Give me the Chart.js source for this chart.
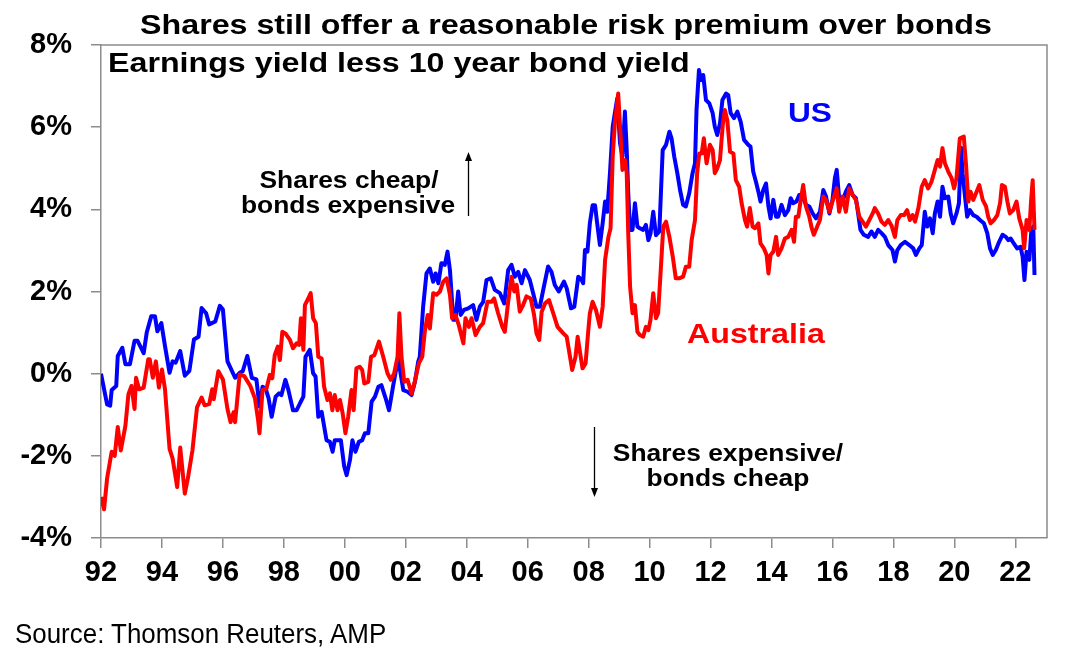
<!DOCTYPE html>
<html>
<head>
<meta charset="utf-8">
<script src="https://cdn.jsdelivr.net/npm/chart.js@4.4.1/dist/chart.umd.min.js"></script>
<style>
  body { margin:0; background:#fff; }
  #wrap { position:relative; width:1068px; height:671px; overflow:hidden; background:#fff; }
  #wrap canvas { position:absolute; left:0; top:0; }
  .t { position:absolute; white-space:nowrap; line-height:1; font-family:Arial, "Liberation Sans", sans-serif; font-weight:bold; color:#000; }
  svg { position:absolute; left:0; top:0; }
</style>
</head>
<body>
<div id="wrap">
  <canvas id="chart" width="1068" height="671"></canvas>
  <div class="t" style="left:566px;top:11px;font-size:28px;transform:translateX(-50%) scaleX(1.15);">Shares still offer a reasonable risk premium over bonds</div>
  <div class="t" style="left:108px;top:49px;font-size:28px;transform:scaleX(1.15);transform-origin:left;">Earnings yield less 10 year bond yield</div>
  <div class="t" style="left:788px;top:99px;font-size:28px;color:#0000ff;transform:scaleX(1.13);transform-origin:left;">US</div>
  <div class="t" style="left:687px;top:320px;font-size:28px;color:#ff0000;transform:scaleX(1.15);transform-origin:left;">Australia</div>
  <div class="t" style="left:349px;top:168px;font-size:24px;transform:translateX(-50%) scaleX(1.1);">Shares cheap/</div>
  <div class="t" style="left:348px;top:193px;font-size:24px;transform:translateX(-50%) scaleX(1.1);">bonds expensive</div>
  <div class="t" style="left:728px;top:441px;font-size:24px;transform:translateX(-50%) scaleX(1.1);">Shares expensive/</div>
  <div class="t" style="left:728px;top:466px;font-size:24px;transform:translateX(-50%) scaleX(1.1);">bonds cheap</div>
  <div class="t" style="left:15px;top:621px;font-size:27px;font-weight:normal;transform:scaleX(0.96);transform-origin:left;">Source: Thomson Reuters, AMP</div>
  <svg width="1068" height="671">
    <line x1="468.5" y1="216" x2="468.5" y2="159" stroke="#000" stroke-width="1.3"/>
    <polygon points="468.5,152 465,161 472,161" fill="#000"/>
    <line x1="594.5" y1="427" x2="594.5" y2="490" stroke="#000" stroke-width="1.3"/>
    <polygon points="594.5,497 591,488 598,488" fill="#000"/>
  </svg>
</div>
<script>
//--------------------------------------------------
// DATA (decimal years / %)
//--------------------------------------------------

const usDates = [
  1992.0,1992.2,1992.3,1992.35,1992.5,1992.55,1992.7,1992.8,1992.95,1993.1,1993.2,1993.4,1993.5,1993.65,1993.77,1993.85,1993.98,
  1994.1,1994.25,1994.35,1994.45,1994.6,1994.75,1994.9,1995.05,1995.2,1995.3,1995.45,1995.55,1995.75,1995.9,1996.0,
  1996.15,1996.4,1996.55,1996.65,1996.8,1996.95,1997.1,1997.2,1997.3,1997.4,1997.5,1997.6,1997.73,1997.84,1997.92,
  1998.05,1998.15,1998.3,1998.42,1998.53,1998.64,1998.71,1998.85,1998.96,1999.04,1999.13,1999.24,1999.4,1999.51,1999.6,1999.67,1999.87,1999.98,
  2000.06,2000.17,2000.25,2000.35,2000.46,2000.57,2000.66,2000.77,2000.88,2000.99,2001.1,2001.2,2001.34,2001.45,2001.59,2001.75,2001.92,
  2002.06,2002.19,2002.3,2002.41,2002.46,2002.57,2002.68,2002.79,2002.9,2002.98,2003.07,2003.17,2003.28,2003.37,2003.45,2003.56,2003.63,2003.72,2003.8,2003.91,
  2004.05,2004.21,2004.32,2004.43,2004.54,2004.65,2004.79,2004.92,2005.09,2005.23,2005.36,2005.47,2005.58,2005.69,2005.8,2005.91,
  2006.07,2006.18,2006.29,2006.4,2006.51,2006.67,2006.78,2006.89,2007.02,2007.19,2007.28,2007.42,2007.53,2007.66,2007.77,2007.82,2007.88,2007.96,
  2008.04,2008.13,2008.21,2008.28,2008.37,2008.46,2008.54,2008.61,2008.7,2008.79,2008.86,2008.94,2009.03,2009.11,2009.19,2009.25,2009.3,2009.36,2009.44,2009.52,2009.6,2009.68,2009.79,2009.88,2009.96,
  2010.03,2010.12,2010.21,2010.32,2010.43,2010.54,2010.65,2010.72,2010.81,2010.91,2011.0,2011.1,2011.19,2011.3,2011.41,2011.49,2011.54,2011.62,2011.68,2011.76,2011.85,2011.96,
  2012.07,2012.14,2012.22,2012.31,2012.39,2012.51,2012.58,2012.66,2012.77,2012.88,2012.99,2013.1,2013.24,2013.31,2013.4,2013.49,2013.57,2013.64,2013.73,2013.82,2013.9,2013.97,
  2014.06,2014.15,2014.22,2014.33,2014.44,2014.55,2014.63,2014.71,2014.82,2014.91,2015.02,2015.13,2015.24,2015.35,2015.46,2015.59,2015.7,2015.79,2015.9,
  2016.0,2016.08,2016.14,2016.22,2016.33,2016.44,2016.55,2016.66,2016.77,2016.85,2016.92,2017.03,2017.17,2017.28,2017.39,2017.5,2017.61,2017.72,2017.83,2017.97,
  2018.05,2018.13,2018.24,2018.38,2018.52,2018.65,2018.74,2018.85,2018.93,2019.03,2019.11,2019.2,2019.29,2019.36,2019.45,2019.53,2019.61,2019.69,2019.8,2019.88,2019.96,
  2020.07,2020.15,2020.22,2020.27,2020.35,2020.42,2020.51,2020.62,2020.73,2020.84,2020.97,2021.08,2021.17,2021.26,2021.36,2021.47,2021.58,2021.69,2021.77,2021.85,2021.95,
  2022.06,2022.17,2022.24,2022.3,2022.37,2022.46,2022.52,2022.59,2022.63
];
const usValues = [
  0.0,-0.75,-0.78,-0.4,-0.3,0.43,0.63,0.23,0.23,0.8,0.8,0.5,1.0,1.4,1.4,1.03,1.23,
  0.67,0.02,0.3,0.27,0.55,-0.05,0.07,0.83,0.9,1.6,1.47,1.2,1.27,1.65,1.56,
  0.3,-0.1,0.02,0.06,0.43,-0.1,-0.14,-0.8,-0.32,-0.36,-0.6,-1.05,-0.56,-0.48,-0.52,
  -0.15,-0.4,-0.89,-0.89,-0.72,-0.56,0.41,0.58,0.01,-0.07,-1.05,-0.93,-1.62,-1.66,-1.9,-1.62,-1.62,-2.26,
  -2.47,-2.1,-1.62,-1.9,-1.66,-1.62,-1.45,-1.45,-0.68,-0.56,-0.32,-0.28,-0.6,-0.89,-0.28,0.37,-0.4,
  -0.44,-0.52,-0.2,0.3,0.41,1.63,2.44,2.56,2.24,2.44,2.2,2.69,2.65,2.97,2.52,1.31,1.31,2.0,1.43,1.55,
  1.59,1.67,1.31,1.63,1.75,2.28,2.32,2.04,1.96,1.71,2.52,2.65,2.36,2.48,2.2,2.52,
  2.28,1.96,1.63,1.63,2.04,2.61,2.48,2.16,2.0,2.24,2.08,1.59,1.63,2.36,2.28,2.2,3.01,2.97,
  3.66,4.1,4.1,3.66,3.13,3.66,4.19,3.94,4.88,6.01,6.34,6.7,5.61,5.28,6.38,5.44,4.39,3.5,3.5,4.15,3.58,3.54,3.5,3.62,3.25,
  3.41,3.94,3.37,3.46,5.44,5.57,5.89,5.73,5.28,4.88,4.47,4.11,4.07,4.39,4.88,5.12,6.42,7.39,7.15,7.27,6.66,6.58,
  6.34,6.01,5.81,6.09,6.66,6.82,6.78,6.34,6.22,6.38,6.13,5.69,5.57,5.53,4.92,4.67,4.43,4.19,4.47,4.63,4.07,3.78,
  4.23,3.82,3.82,4.11,3.86,3.98,4.27,4.15,4.19,4.35,4.31,4.11,4.07,3.9,3.78,3.94,4.47,4.31,3.9,
  4.23,4.76,4.96,4.27,4.19,4.43,4.59,4.35,4.27,3.86,3.5,3.38,3.33,3.46,3.33,3.5,3.42,3.33,3.13,3.01,
  2.73,3.01,3.13,3.21,3.13,3.05,2.89,3.05,3.13,3.94,3.58,3.78,3.42,3.9,4.19,3.82,4.55,4.27,4.31,3.9,3.66,
  3.9,4.15,5.5,4.88,4.31,3.82,3.98,3.86,3.82,3.74,3.66,3.42,3.05,2.89,3.01,3.21,3.38,3.33,3.25,3.29,3.17,
  3.05,3.09,2.85,2.28,2.97,2.77,3.42,3.58,2.4
];

const auDates = [
  1992.0,1992.1,1992.2,1992.35,1992.45,1992.55,1992.65,1992.8,1992.9,1993.0,1993.1,1993.15,1993.25,1993.4,1993.55,1993.6,1993.7,1993.8,1993.9,
  1994.0,1994.1,1994.25,1994.35,1994.5,1994.6,1994.75,1994.85,1995.0,1995.15,1995.3,1995.4,1995.55,1995.65,1995.7,1995.85,
  1996.0,1996.15,1996.25,1996.35,1996.4,1996.55,1996.7,1996.9,1997.05,1997.15,1997.2,1997.3,1997.43,1997.54,1997.62,1997.7,1997.8,1997.87,1997.95,
  1998.05,1998.2,1998.3,1998.42,1998.5,1998.56,1998.64,1998.69,1998.8,1998.88,1998.96,1999.05,1999.13,1999.24,1999.32,1999.43,1999.51,1999.59,1999.67,1999.76,1999.84,1999.93,
  2000.02,2000.11,2000.22,2000.29,2000.38,2000.49,2000.57,2000.64,2000.77,2000.86,2000.97,2001.12,2001.26,2001.4,2001.51,2001.62,2001.73,2001.79,2001.86,2001.95,
  2002.06,2002.19,2002.3,2002.43,2002.54,2002.63,2002.72,2002.79,2002.9,2003.01,2003.12,2003.23,2003.34,2003.45,2003.52,2003.63,2003.74,2003.89,2003.96,
  2004.07,2004.16,2004.29,2004.43,2004.54,2004.68,2004.82,2004.9,2005.03,2005.17,2005.25,2005.36,2005.47,2005.56,2005.64,2005.74,2005.85,2005.96,
  2006.1,2006.21,2006.29,2006.38,2006.46,2006.57,2006.7,2006.84,2006.98,2007.17,2007.28,2007.39,2007.46,2007.57,2007.64,2007.74,2007.8,2007.9,2007.99,
  2008.04,2008.13,2008.24,2008.37,2008.46,2008.54,2008.65,2008.72,2008.79,2008.86,2008.97,2009.05,2009.11,2009.19,2009.25,2009.3,2009.36,2009.44,2009.52,2009.6,2009.68,2009.79,2009.88,2009.96,
  2010.03,2010.12,2010.21,2010.28,2010.36,2010.45,2010.54,2010.65,2010.76,2010.86,2010.97,2011.1,2011.19,2011.3,2011.38,2011.49,2011.56,2011.63,2011.71,2011.78,2011.87,2011.98,
  2012.07,2012.14,2012.22,2012.31,2012.4,2012.47,2012.55,2012.64,2012.75,2012.83,2012.94,2013.02,2013.13,2013.2,2013.29,2013.38,2013.46,2013.57,2013.64,2013.75,2013.84,2013.9,2013.97,
  2014.06,2014.15,2014.22,2014.33,2014.44,2014.55,2014.66,2014.74,2014.8,2014.88,2014.96,2015.04,2015.13,2015.24,2015.32,2015.39,2015.5,2015.59,2015.7,2015.79,2015.9,
  2016.0,2016.14,2016.22,2016.33,2016.44,2016.55,2016.66,2016.77,2016.88,2016.99,2017.1,2017.21,2017.32,2017.39,2017.5,2017.61,2017.72,2017.83,2017.94,
  2018.05,2018.13,2018.24,2018.35,2018.45,2018.54,2018.63,2018.71,2018.82,2018.93,2019.03,2019.14,2019.25,2019.36,2019.45,2019.53,2019.61,2019.69,2019.8,2019.91,2019.99,
  2020.07,2020.18,2020.31,2020.38,2020.46,2020.53,2020.62,2020.71,2020.82,2020.93,2021.04,2021.11,2021.19,2021.3,2021.41,2021.5,2021.56,2021.66,2021.74,2021.82,2021.93,
  2022.04,2022.13,2022.24,2022.29,2022.37,2022.46,2022.52,2022.57,2022.63
];
const auValues = [
  -3.0,-3.3,-2.55,-1.9,-2.0,-1.3,-1.87,-1.27,-0.5,-0.3,-0.86,-0.1,-0.38,-0.34,0.35,0.35,-0.1,0.3,-0.34,
  0.1,-0.38,-1.83,-2.07,-2.76,-1.8,-2.92,-2.55,-1.87,-0.82,-0.58,-0.77,-0.74,-0.38,-0.62,0.06,
  -0.14,-0.86,-1.18,-0.94,-1.18,-0.02,-0.06,-0.3,-0.6,-1.1,-1.45,-0.4,-0.36,-0.03,-0.11,0.45,0.66,0.33,1.02,
  0.98,0.82,0.62,0.74,0.7,1.35,0.58,1.67,1.83,1.96,1.35,1.23,0.41,0.37,-0.32,-0.64,-0.48,-0.89,-0.52,-0.89,-0.64,-0.97,
  -1.45,-1.05,-0.4,-0.89,0.13,0.17,0.09,-0.24,-0.2,0.41,0.45,0.78,0.41,0.01,-0.15,0.01,0.41,1.47,0.41,-0.2,
  -0.15,-0.48,-0.18,0.25,0.41,1.06,1.43,1.1,1.96,1.92,2.0,2.24,2.32,1.92,1.35,1.43,1.18,0.74,1.35,
  1.14,1.35,0.94,1.14,1.23,1.75,1.75,1.83,1.47,1.14,1.02,1.75,2.36,2.0,2.16,1.51,1.67,1.88,
  1.83,1.43,0.98,0.82,1.51,1.71,1.79,1.47,1.14,0.98,0.9,0.41,0.09,0.41,0.9,0.41,0.13,0.25,1.06,
  1.47,1.75,1.55,1.14,1.63,2.77,3.33,3.54,5.28,6.09,6.82,5.77,4.96,5.2,4.88,3.41,2.12,1.47,1.67,1.02,0.94,0.9,1.14,1.06,
  1.31,1.96,1.35,1.47,2.44,3.58,3.7,3.33,2.85,2.32,2.32,2.36,2.6,2.6,3.25,3.74,4.88,5.36,5.36,5.73,5.12,5.57,
  5.44,4.88,5.0,5.2,6.05,6.42,6.17,5.4,5.36,4.71,4.55,4.15,3.74,3.58,4.03,3.58,3.54,3.66,3.17,3.05,2.89,2.44,2.89,
  2.97,3.33,2.89,3.05,3.29,3.33,3.5,3.21,3.82,3.82,4.23,4.59,4.07,3.82,3.54,3.38,3.58,3.74,4.31,4.23,3.94,
  4.19,4.51,3.94,4.31,3.94,4.51,4.35,4.23,3.82,3.7,3.58,3.74,3.9,4.03,3.9,3.7,3.62,3.74,3.6,
  3.33,3.74,3.86,3.86,3.98,3.74,3.86,3.7,4.03,4.55,4.71,4.51,4.67,4.96,5.2,5.04,5.49,5.12,4.92,4.76,4.51,
  4.76,5.73,5.77,5.12,4.19,4.43,4.23,4.39,4.59,4.23,4.07,3.82,3.66,3.74,3.86,4.15,4.59,4.55,4.19,3.9,3.98,
  4.19,3.78,3.5,3.05,3.74,3.5,4.23,4.71,3.5
];

const xTickYears = [1992,1994,1996,1998,2000,2002,2004,2006,2008,2010,2012,2014,2016,2018,2020,2022];
const yTicks = [-4,-2,0,2,4,6,8];

//--------------------------------------------------
// CHART
//--------------------------------------------------

const AXIS_GREY = "#8c8c8c";
const FONT = "Arial, 'Liberation Sans', sans-serif";

function pairs(xs, ys){
  return xs.map((x,i)=>({x:x, y:ys[i]}));
}

// grey box on the top and right side of the plot
const plotBox = {
  id:"plotBox",
  afterDraw(chart){
    const a = chart.chartArea, c = chart.ctx;
    c.save();
    c.strokeStyle = AXIS_GREY;
    c.lineWidth = 1.5;
    c.beginPath();
    c.moveTo(a.left, a.top);
    c.lineTo(a.right, a.top);
    c.lineTo(a.right, a.bottom);
    c.stroke();
    c.restore();
  }
};

new Chart(document.getElementById("chart"), {
  type:"line",
  data:{
    datasets:[
      { label:"Australia", data:pairs(auDates, auValues), borderColor:"#ff0000", borderWidth:4,
        pointRadius:0, tension:0, fill:false, borderJoinStyle:"round" },
      { label:"US", data:pairs(usDates, usValues), borderColor:"#0000ff", borderWidth:4,
        pointRadius:0, tension:0, fill:false, borderJoinStyle:"round" }
    ]
  },
  options:{
    responsive:false,
    animation:false,
    layout:{ padding:{ top:45, right:21, left:0, bottom:0 } },
    plugins:{ legend:{ display:false }, tooltip:{ enabled:false } },
    scales:{
      x:{
        type:"linear", min:1992, max:2023.04,
        afterBuildTicks: s => { s.ticks = xTickYears.map(v=>({value:v})); },
        afterFit: s => { s.height = 133; },
        ticks:{ autoSkip:false, maxRotation:0, padding:8, color:"#000",
          font:{ family:FONT, size:29, weight:"bold" },
          callback: v => String(v % 100).padStart(2,"0") },
        grid:{ drawOnChartArea:false, drawTicks:true, tickLength:10, color:AXIS_GREY, lineWidth:1.5 },
        border:{ display:true, color:AXIS_GREY, width:1.5 }
      },
      y:{
        min:-4, max:8,
        afterBuildTicks: s => { s.ticks = yTicks.map(v=>({value:v})); },
        afterFit: s => { s.width = 101; },
        ticks:{ padding:19, color:"#000",
          font:{ family:FONT, size:29, weight:"bold" },
          callback: v => v + "%" },
        grid:{ drawOnChartArea:false, drawTicks:true, tickLength:10, color:AXIS_GREY, lineWidth:1.5 },
        border:{ display:true, color:AXIS_GREY, width:1.5 }
      }
    }
  },
  plugins:[plotBox]
});
</script>
</body>
</html>
